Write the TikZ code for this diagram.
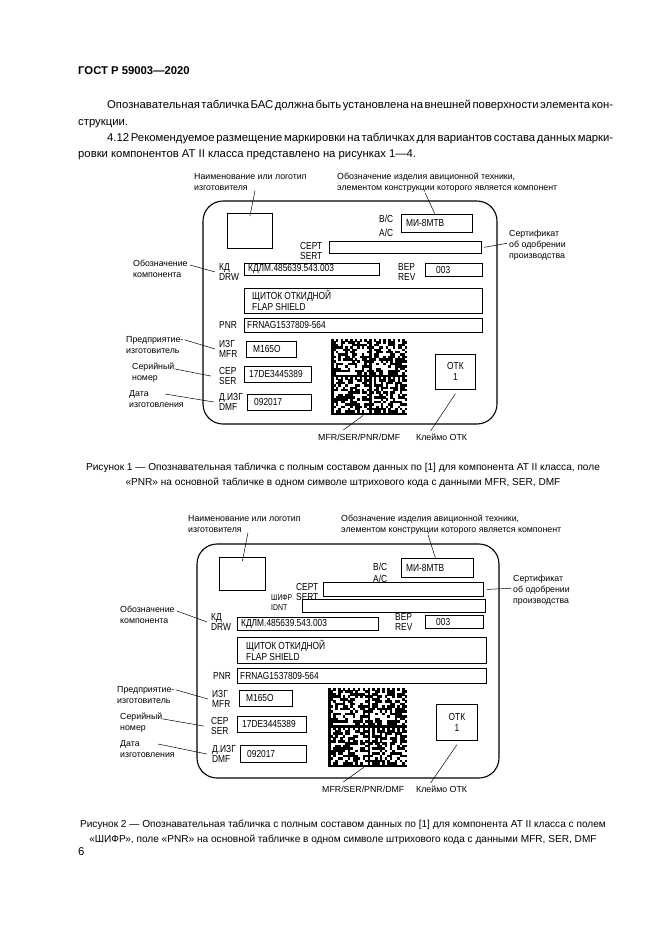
\documentclass[tikz,border=0pt]{standalone}
\usepackage{fontspec}
\setmainfont{Liberation Sans}
\newfontfamily\narrowfont[FakeStretch=0.82]{Liberation Sans}
\usetikzlibrary{positioning}
\newcommand\bodyfont{\fontsize{11.3}{16}\selectfont}
\newcommand\capfont{\fontsize{10.1}{15}\selectfont}
\newcommand\notefont{\fontsize{8.8}{11}\selectfont}
\newcommand\tagfont{\narrowfont\fontsize{10.2}{10.5}\selectfont}
\newcommand\smalltagfont{\narrowfont\fontsize{8.4}{10.5}\selectfont}
\newcommand\valfont{\narrowfont\fontsize{10.2}{11}\selectfont}
\newcommand\fullline[1]{\hbox to 506pt{\spaceskip=2.3pt plus 3pt minus 1.2pt #1}}
% data matrix: #1,#2 top left, #3 module size
\newcommand{\dmcode}[3]{%
  \pgfmathsetseed{5903}
  \foreach \c in {0,...,31}{
    \foreach \r in {0,...,31}{
      \pgfmathtruncatemacro\cc{mod(\c,16)}
      \pgfmathtruncatemacro\rr{mod(\r,16)}
      \pgfmathtruncatemacro\rnd{random(0,1)}
      \pgfmathtruncatemacro\blk{(\cc==0)||(\rr==15)||((\rr==0)&&(mod(\cc,2)==0))||((\cc==15)&&(mod(\rr,2)==1))||((\rr>0)&&(\cc<15)&&(\rnd==1))}
      \ifnum\blk=1
        \fill ({#1+\c*#3},{#2+\r*#3}) rectangle ++({#3+0.15},{#3+0.15});
      \fi
    }
  }
}
\tikzset{
  plate/.style={draw, line width=1.1pt, rounded corners=20pt},
  fld/.style={draw, line width=0.8pt, anchor=north west, inner sep=0pt},
  val/.style={anchor=west, inner sep=0pt, font=\valfont},
  tagtxt/.style={anchor=north west, inner sep=0pt, align=left, font=\tagfont},
  note/.style={anchor=north west, inner sep=0pt, align=left, font=\notefont},
  capnode/.style={inner sep=0pt, align=center, font=\capfont},
  lead/.style={line width=0.5pt},
  dmbox/.style={anchor=north west, inner sep=0pt, minimum size=#1}
}

\begin{document}
\begin{tikzpicture}[x=1pt, y=-1pt]
  \fill[white] (0,0) rectangle (661,935);
  \useasboundingbox (0,0) rectangle (661,935);

  % page text
  \node[anchor=base west, inner sep=0pt, font=\bodyfont\bfseries] (hdr) at (78,74) {ГОСТ Р 59003—2020};
  \node[anchor=base west, inner sep=0pt, font=\bodyfont] (l1) at (107,108) {\fullline{Опознавательная табличка БАС должна быть установлена на внешней поверхности элемента кон-}};
  \node[anchor=base west, inner sep=0pt, font=\bodyfont] (l2) at (78,125) {струкции.};
  \node[anchor=base west, inner sep=0pt, font=\bodyfont] (l3) at (107,141) {\fullline{4.12 Рекомендуемое размещение маркировки на табличках для вариантов состава данных марки-}};
  \node[anchor=base west, inner sep=0pt, font=\bodyfont] (l4) at (78,157) {ровки компонентов АТ II класса представлено на рисунках 1—4.};

  % figure 1
  \draw[plate] (203,201) rectangle (497,424);
  \node[fld, minimum width=45, minimum height=35] (logoA) at (227,213) {};
  \node[note] (manA) at (194,173) {Наименование или логотип\\изготовителя};
  \node[note] (acA) at (337,173) {Обозначение изделия авиционной техники,\\элементом конструкции которого является компонент};
  \node[tagtxt] (bcA) at (379,215) {B/C\\[3pt]A/C};
  \node[fld, minimum width=71, minimum height=18] (mivA) at (401,214) {};
  \node[val, right=5pt of mivA.west] (mivtA) {МИ-8МТВ};
  \node[tagtxt] (certlA) at (300,242) {СЕРТ\\SERT};
  \node[fld, minimum width=152, minimum height=12] (sertA) at (329,241) {};
  \node[note] (certA) at (509,230) {Сертификат\\об одобрении\\производства};
  \node[note] (cmpA) at (133,260) {Обозначение\\компонента};
  \node[tagtxt] (kdA) at (219,263) {КД\\DRW};
  \node[fld, minimum width=135, minimum height=12] (drwA) at (244,263) {};
  \node[val, right=4pt of drwA.west] (drwtA) {КДЛМ.485639.543.003};
  \node[tagtxt] (verA) at (398,263) {ВЕР\\REV};
  \node[fld, minimum width=57, minimum height=13] (revA) at (425,263) {};
  \node[val, right=11pt of revA.west] (revtA) {003};
  \node[fld, minimum width=238, minimum height=25] (nameA) at (244,288) {};
  \node[val, align=left, right=8pt of nameA.west] (nametA) {ЩИТОК ОТКИДНОЙ\\FLAP SHIELD};
  \node[tagtxt] (pnrlA) at (219,321) {PNR};
  \node[fld, minimum width=238, minimum height=14] (pnrA) at (244,318) {};
  \node[val, right=3pt of pnrA.west] (pnrtA) {FRNAG1537809-564};
  \node[note] (mfrlA) at (126,336) {Предприятие-\\изготовитель};
  \node[tagtxt] (izgA) at (219,340) {ИЗГ\\MFR};
  \node[fld, minimum width=50, minimum height=16] (mfrA) at (246,341) {};
  \node[val, right=7pt of mfrA.west] (mfrtA) {M165O};
  \node[note] (serlA) at (132,363) {Серийный\\номер};
  \node[tagtxt] (cepA) at (219,367) {СЕР\\SER};
  \node[fld, minimum width=67, minimum height=16] (serA) at (244,366) {};
  \node[val, right=5pt of serA.west] (sertxA) {17DE3445389};
  \node[note] (datelA) at (129,390) {Дата\\изготовления};
  \node[tagtxt] (dizgA) at (219,393) {Д.ИЗГ\\DMF};
  \node[fld, minimum width=64, minimum height=16] (dmfA) at (247,394) {};
  \node[val, right=7pt of dmfA.west] (dmftA) {092017};
  \node[dmbox=76] (dmA) at (331,339) {};
  \dmcode{331}{339}{2.375}
  \node[fld, minimum width=40, minimum height=35, align=center, font=\valfont] (otkA) at (435,354) {ОТК\\1};
  \node[note] (dmlA) at (318,434) {MFR/SER/PNR/DMF};
  \node[note] (stampA) at (416,434) {Клеймо ОТК};

  \draw[lead] ([xshift=61pt]manA.south west) -- ([yshift=-3pt]logoA.north);
  \draw[lead] ([xshift=88pt]acA.south west) -- ([xshift=-2pt]mivA.north);
  \draw[lead] ([xshift=2pt]sertA.east) -- ([xshift=-2pt,yshift=2pt]certA.west);
  \draw[lead] ([xshift=2pt,yshift=4pt]cmpA.east) -- ([xshift=-4pt]kdA.west);
  \draw[lead] ([xshift=1pt,yshift=5pt]mfrlA.east) -- ([xshift=-4pt]izgA.west);
  \draw[lead] ([yshift=4pt]serlA.east) -- ([xshift=-8pt]cepA.west);
  \draw[lead] ([xshift=36pt,yshift=-4pt]datelA.north west) -- ([xshift=-5pt]dizgA.west);
  \draw[lead] ([xshift=-6pt]dmA.south) -- ([xshift=-16pt,yshift=4pt]dmlA.north);
  \draw[lead] ([yshift=-4pt]otkA.south) -- ([xshift=-11pt,yshift=3pt]stampA.north);

  \node[capnode] (capA) at (343,475) {Рисунок 1 — Опознавательная табличка с полным составом данных по [1] для компонента АТ II класса, поле\\«PNR» на основной табличке в одном символе штрихового кода с данными MFR, SER, DMF};

  % figure 2
  \draw[plate] (197,544) rectangle (499,778);
  \node[fld, minimum width=46, minimum height=33] (logoB) at (219,557) {};
  \node[note] (manB) at (188,515) {Наименование или логотип\\изготовителя};
  \node[note] (acB) at (341,515) {Обозначение изделия авиционной техники,\\элементом конструкции которого является компонент};
  \node[tagtxt] (bcB) at (373,563) {B/C\\[1pt]A/C};
  \node[fld, minimum width=72, minimum height=19] (mivB) at (401,558) {};
  \node[val, right=5pt of mivB.west] (mivtB) {МИ-8МТВ};
  \node[tagtxt] (certlB) at (296,583) {СЕРТ\\SERT};
  \node[fld, minimum width=160, minimum height=14] (sertB) at (323,582) {};
  \node[note] (certB) at (513,575) {Сертификат\\об одобрении\\производства};
  \node[tagtxt, font=\smalltagfont] (shifrB) at (271,594) {ШИФР\\IDNT};
  \node[fld, minimum width=183, minimum height=13] (idntB) at (302,599) {};
  \node[note] (cmpB) at (120,606) {Обозначение\\компонента};
  \node[tagtxt] (kdB) at (211,613) {КД\\DRW};
  \node[fld, minimum width=141, minimum height=13] (drwB) at (237,617) {};
  \node[val, right=4pt of drwB.west] (drwtB) {КДЛМ.485639.543.003};
  \node[tagtxt] (verB) at (395,613) {ВЕР\\REV};
  \node[fld, minimum width=58, minimum height=13] (revB) at (425,615) {};
  \node[val, right=11pt of revB.west] (revtB) {003};
  \node[fld, minimum width=249, minimum height=26] (nameB) at (237,637) {};
  \node[val, align=left, right=9pt of nameB.west] (nametB) {ЩИТОК ОТКИДНОЙ\\FLAP SHIELD};
  \node[tagtxt] (pnrlB) at (213,672) {PNR};
  \node[fld, minimum width=249, minimum height=15] (pnrB) at (237,668) {};
  \node[val, right=3pt of pnrB.west] (pnrtB) {FRNAG1537809-564};
  \node[note] (mfrlB) at (117,686) {Предприятие-\\изготовитель};
  \node[tagtxt] (izgB) at (212,690) {ИЗГ\\MFR};
  \node[fld, minimum width=53, minimum height=16] (mfrB) at (239,690) {};
  \node[val, right=7pt of mfrB.west] (mfrtB) {M165O};
  \node[note] (serlB) at (120,713) {Серийный\\номер};
  \node[tagtxt] (cepB) at (211,717) {СЕР\\SER};
  \node[fld, minimum width=69, minimum height=16] (serB) at (237,716) {};
  \node[val, right=5pt of serB.west] (sertxB) {17DE3445389};
  \node[note] (datelB) at (120,740) {Дата\\изготовления};
  \node[tagtxt] (dizgB) at (212,745) {Д.ИЗГ\\DMF};
  \node[fld, minimum width=66, minimum height=17] (dmfB) at (240,745) {};
  \node[val, right=7pt of dmfB.west] (dmftB) {092017};
  \node[dmbox=79] (dmB) at (328,688) {};
  \dmcode{328}{688}{2.47}
  \node[fld, minimum width=41, minimum height=36, align=center, font=\valfont] (otkB) at (436,704) {ОТК\\1};
  \node[note] (dmlB) at (322,786) {MFR/SER/PNR/DMF};
  \node[note] (stampB) at (416,786) {Клеймо ОТК};

  \draw[lead] ([xshift=60pt]manB.south west) -- ([yshift=-4pt]logoB.north);
  \draw[lead] ([xshift=87pt]acB.south west) -- ([xshift=-2pt]mivB.north);
  \draw[lead] ([xshift=3pt]sertB.east) -- ([xshift=-2pt,yshift=2pt]certB.west);
  \draw[lead] ([xshift=2pt,yshift=4pt]cmpB.east) -- ([xshift=-4pt]kdB.west);
  \draw[lead] ([xshift=1pt,yshift=5pt]mfrlB.east) -- ([xshift=-4pt]izgB.west);
  \draw[lead] ([yshift=4pt]serlB.east) -- ([xshift=-7pt]cepB.west);
  \draw[lead] ([xshift=38pt,yshift=-4pt]datelB.north west) -- ([xshift=-5pt]dizgB.west);
  \draw[lead] ([xshift=-4pt]dmB.south) -- ([xshift=-20pt,yshift=4pt]dmlB.north);
  \draw[lead] ([yshift=-4pt]otkB.south) -- ([xshift=-11pt,yshift=3pt]stampB.north);

  \node[capnode] (capB) at (343,832) {Рисунок 2 — Опознавательная табличка с полным составом данных по [1] для компонента АТ II класса с полем\\«ШИФР», поле «PNR» на основной табличке в одном символе штрихового кода с данными MFR, SER, DMF};
  \node[anchor=base west, inner sep=0pt, font=\bodyfont] (pg) at (78,855) {6};
\end{tikzpicture}
\end{document}
